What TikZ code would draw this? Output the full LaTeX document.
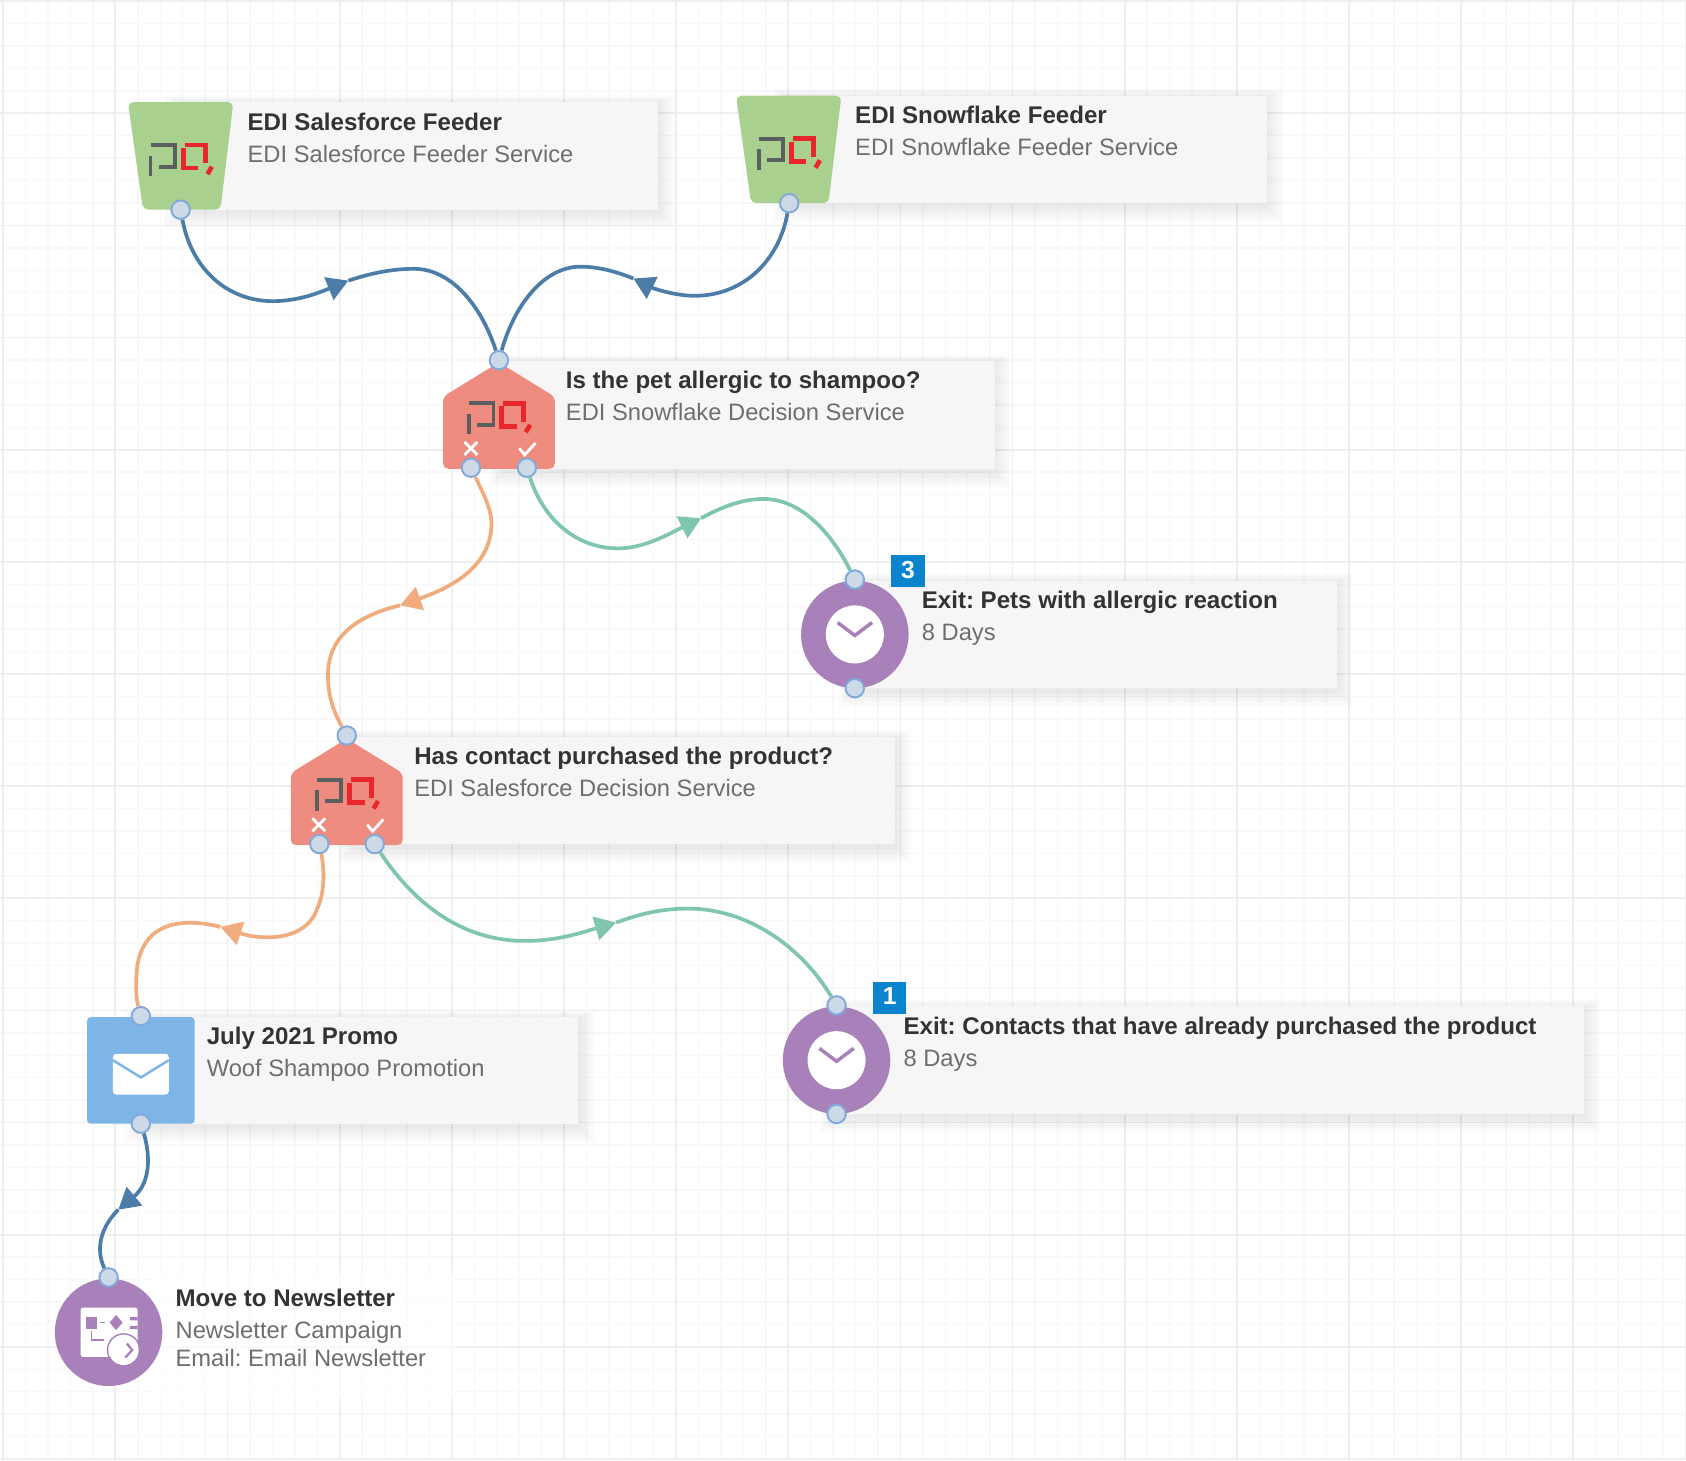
\documentclass[tikz,border=0pt]{standalone}
\usepackage{fontspec}
\setmainfont{Liberation Sans}
\frenchspacing
\usetikzlibrary{arrows.meta}
\definecolor{gridmin}{HTML}{F8F8FA}
\definecolor{gridmaj}{HTML}{EFEFF2}
\definecolor{cardbg}{HTML}{F6F6F6}
\definecolor{feedgreen}{HTML}{A9D08E}
\definecolor{decred}{HTML}{EE8C80}
\definecolor{mailblue}{HTML}{7DB5E6}
\definecolor{wfpurple}{HTML}{A981BA}
\definecolor{badgeblue}{HTML}{0A84CC}
\definecolor{linkblue}{HTML}{4C7CA8}
\definecolor{linkgreen}{HTML}{80C6AE}
\definecolor{linkorange}{HTML}{F0AC7C}
\definecolor{portfill}{HTML}{CCDAE8}
\definecolor{portline}{HTML}{82A9DC}
\definecolor{titlegray}{HTML}{333333}
\definecolor{subgray}{HTML}{6C6E72}
\definecolor{logogray}{HTML}{5A5F60}
\definecolor{logored}{HTML}{E8262C}
\def\uu{0.0215cm}
\tikzset{
  x=\uu, y=-\uu,
  port/.style={circle,draw=portline,fill=portfill,line width=1.1pt,minimum size=10.5pt,inner sep=0pt},
  title/.style={anchor=base west,inner sep=0pt,font=\fontsize{13.7}{16}\selectfont\bfseries,text=titlegray},
  sub/.style={anchor=base west,inner sep=0pt,font=\fontsize{13.5}{16}\selectfont,text=subgray},
  badge/.style={fill=badgeblue,text=white,font=\fontsize{14}{16}\selectfont\bfseries,minimum width=19pt,minimum height=18pt,inner sep=0pt},
  conn/.style={line width=2.1pt},
  tipped/.style={-{Triangle[length=12pt,width=13.5pt]}},
}
\newcommand{\card}[4]{%
  \foreach \i in {1,...,7}{\fill[black,opacity=0.011] (#1-\i*2.2,#2-\i*1.2+2) rectangle (#3+\i*2.2,#4+\i*2.2+2);}
  \fill[cardbg] (#1,#2) rectangle (#3,#4);}
\newcommand{\pqlogo}[2]{%
  \begin{scope}[shift={(#1,#2)}]
    \draw[logogray,line width=2.2pt] (-28,-13)--(-5,-13)--(-5,7)--(-20,7) (-28,-3)--(-28,16);
    \draw[logored,line width=2.6pt] (16.5,8.4)--(2.5,8.4)--(2.5,-10);
    \draw[logored,line width=2.6pt] (4,-13)--(23,-13)--(23,4);
    \draw[logored,line width=2.6pt] (29,7)--(25,14);
  \end{scope}}
\newcommand{\feeder}[2]{%
  \begin{scope}[shift={(#1,#2)}]
    \fill[feedgreen,rounded corners=3pt] (-49,-50)--(49,-50)--(37,50)--(-35,50)--cycle;
  \end{scope}\pqlogo{#1}{#2+3}}
\newcommand{\decision}[2]{%
  \begin{scope}[shift={(#1,#2)}]
    \fill[decred,rounded corners=3pt] (0,-50)--(52,-18)--(52,49)--(-52,49)--(-52,-18)--cycle;
    \draw[white,line width=1.6pt] (-32,24)--(-20,36) (-32,36)--(-20,24);
    \draw[white,line width=1.6pt] (19,30)--(24,36)--(34,25);
  \end{scope}\pqlogo{#1}{#2+1}}
\newcommand{\clock}[2]{%
  \fill[wfpurple] (#1,#2) circle[radius=50];
  \fill[white] (#1,#2) circle[radius=27];
  \draw[wfpurple,line width=2pt] (#1-16,#2-11)--(#1,#2+1)--(#1+16,#2-11);}
\begin{document}
\begin{tikzpicture}
\useasboundingbox (0,0) rectangle (1568,1358);
\fill[white] (0,0) rectangle (1568,1358);
% grid
\foreach \k in {0,...,75}{
  \draw[gridmin,line width=0.8pt] ({3+\k*20.86},0)--({3+\k*20.86},1358);
}
\foreach \k in {0,...,65}{
  \draw[gridmin,line width=0.8pt] (0,{1+\k*20.86})--(1568,{1+\k*20.86});
}
\foreach \k in {0,...,15}{
  \draw[gridmaj,line width=1pt] ({3+\k*104.3},0)--({3+\k*104.3},1358);
}
\foreach \k in {0,...,13}{
  \draw[gridmaj,line width=1pt] (0,{1+\k*104.3})--(1568,{1+\k*104.3});
}
% cards
\card{168}{95}{612}{195}
\card{734}{89}{1178}{189}
\card{470}{336}{925}{436}
\card{795}{540}{1243}{640}
\card{330}{685}{832}{785}
\card{778}{936}{1473}{1036}
\card{131}{946}{538}{1045}
\fill[white,opacity=0.6] (140,1185) rectangle (425,1300);
% activity shapes
\feeder{168}{145}
\feeder{733.5}{139}
\decision{464}{387}
\decision{322.5}{737}
\clock{795}{590}
\clock{778}{986}
\fill[mailblue,rounded corners=2pt] (81,946) rectangle (181,1045);
\fill[white,rounded corners=2pt] (105,980) rectangle (157,1018);
\draw[mailblue,line width=1.4pt] (105,986)--(131,1002)--(157,986);
\fill[wfpurple] (101,1239) circle[radius=50];
\fill[white,rounded corners=1.5pt] (75,1216) rectangle (128,1262);
\fill[wfpurple] (80,1225) rectangle (90,1236);
\draw[wfpurple,line width=0.9pt] (93,1230)--(98,1230) (85,1238)--(85,1246)--(97,1246);
\fill[wfpurple] (108,1223)--(114,1230)--(108,1237)--(102,1230)--cycle;
\fill[wfpurple] (121,1225) rectangle (128,1228) (121,1233) rectangle (128,1236);
\fill[white] (115,1255.5) circle[radius=14];
\draw[wfpurple,line width=0.8pt] (115,1255.5) circle[radius=15];
\draw[wfpurple,line width=1.3pt] (118,1249.5)--(123,1255.5)--(116.5,1262.5);
% badges
\node[badge] (badgeThree) at (844.5,531) {\raisebox{1.6pt}{3}};
\node[badge] (badgeOne) at (827.5,928) {\raisebox{1.6pt}{1}};
% ports
\node[port] (salesOut) at (168,195) {};
\node[port] (snowOut) at (734,189) {};
\node[port] (allergicIn) at (464,335) {};
\node[port] (allergicNo) at (438,435) {};
\node[port] (allergicYes) at (490,435) {};
\node[port] (exitThreeIn) at (795,539) {};
\node[port] (exitThreeOut) at (795,640) {};
\node[port] (purchIn) at (322.5,684) {};
\node[port] (purchNo) at (297,785) {};
\node[port] (purchYes) at (348.5,785) {};
\node[port] (exitOneIn) at (778,935) {};
\node[port] (exitOneOut) at (778,1036) {};
\node[port] (promoIn) at (131,945) {};
\node[port] (promoOut) at (131,1045) {};
\node[port] (newsIn) at (101,1188) {};
% texts
\node[title] (tSales) at (230,121) {EDI Salesforce Feeder};
\node[sub] (sSales) at (230,151) {EDI Salesforce Feeder Service};
\node[title] (tSnow) at (795,115) {EDI Snowflake Feeder};
\node[sub] (sSnow) at (795,145) {EDI Snowflake Feeder Service};
\node[title] (tAllergic) at (526,361) {Is the pet allergic to shampoo?};
\node[sub] (sAllergic) at (526,391) {EDI Snowflake Decision Service};
\node[title] (tExitThree) at (857,566) {Exit: Pets with allergic reaction};
\node[sub] (sExitThree) at (857,596) {8 Days};
\node[title] (tPurch) at (385,711) {Has contact purchased the product?};
\node[sub] (sPurch) at (385,741) {EDI Salesforce Decision Service};
\node[title] (tExitOne) at (840,962) {Exit: Contacts that have already purchased the product};
\node[sub] (sExitOne) at (840,992) {8 Days};
\node[title] (tPromo) at (192,971) {July 2021 Promo};
\node[sub] (sPromo) at (192,1001) {Woof Shampoo Promotion};
\node[title] (tNews) at (163,1215) {Move to Newsletter};
\node[sub] (sNews) at (163,1245) {Newsletter Campaign};
\node[sub] (sNewsTwo) at (163,1271) {Email: Email Newsletter};
% connectors
\draw[conn,linkblue,tipped] (salesOut) .. controls (178,250) and (212,282) .. (258,280) .. controls (282,279) and (302,270) .. (324,261);
\draw[conn,linkblue] (324,261) .. controls (345,254) and (365,250) .. (385,250) .. controls (420,250) and (448,285) .. (allergicIn);
\draw[conn,linkblue,tipped] (snowOut) .. controls (724,245) and (688,277) .. (642,275) .. controls (624,274) and (607,268) .. (589,259);
\draw[conn,linkblue] (589,259) .. controls (572,252) and (555,248) .. (540,248) .. controls (505,248) and (478,285) .. (allergicIn);
\draw[conn,linkgreen,tipped] (allergicYes) .. controls (505,482) and (535,510) .. (575,510) .. controls (600,510) and (625,495) .. (652,482);
\draw[conn,linkgreen] (652,482) .. controls (670,472) and (690,464) .. (710,464) .. controls (750,464) and (778,505) .. (exitThreeIn);
\draw[conn,linkorange,tipped] (allergicNo) .. controls (450,460) and (458,475) .. (457,490) .. controls (455,530) and (415,548) .. (372,563);
\draw[conn,linkorange] (372,563) .. controls (335,572) and (305,590) .. (305,628) .. controls (305,650) and (312,665) .. (purchIn);
\draw[conn,linkgreen,tipped] (purchYes) .. controls (385,840) and (430,876) .. (490,875) .. controls (520,875) and (545,866) .. (573,858);
\draw[conn,linkgreen] (573,858) .. controls (595,850) and (615,845) .. (640,845) .. controls (695,845) and (745,880) .. (exitOneIn);
\draw[conn,linkorange,tipped] (purchNo) .. controls (302,810) and (302,830) .. (295,845) .. controls (285,875) and (245,875) .. (205,862);
\draw[conn,linkorange] (205,862) .. controls (165,852) and (130,860) .. (127,905) .. controls (126,920) and (127,930) .. (promoIn);
\draw[conn,linkblue,tipped] (promoOut) .. controls (140,1075) and (140,1100) .. (110,1125);
\draw[conn,linkblue] (110,1125) .. controls (95,1140) and (88,1160) .. (newsIn);
\end{tikzpicture}
\end{document}
